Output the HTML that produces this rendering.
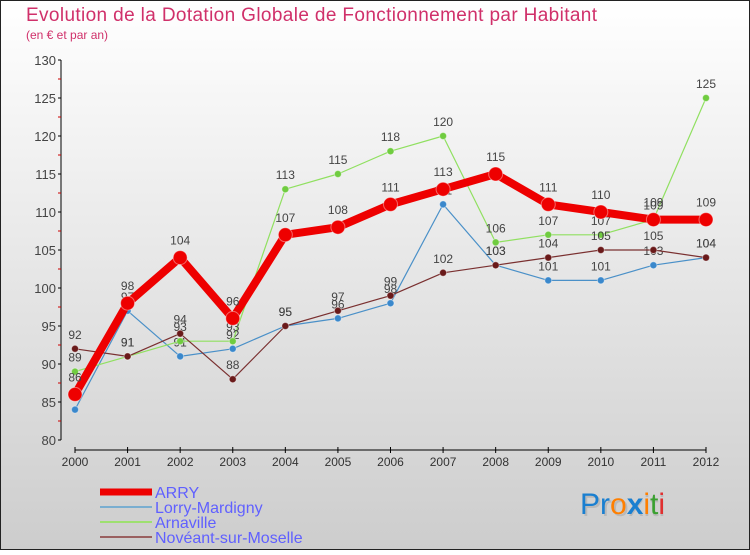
<!DOCTYPE html>
<html><head><meta charset="utf-8"><style>
body{margin:0;width:750px;height:550px;overflow:hidden;font-family:"Liberation Sans",sans-serif}
</style></head><body>
<svg id="c" width="750" height="550" xmlns="http://www.w3.org/2000/svg">
<defs><linearGradient id="bg" x1="0" y1="0" x2="0" y2="1"><stop offset="0" stop-color="#ffffff"/><stop offset="1" stop-color="#cdcdcd"/></linearGradient></defs>
<rect x="0.5" y="0.5" width="749" height="549" fill="url(#bg)" stroke="#222"/>
<text x="26" y="21" font-size="19" fill="#d0306a" textLength="571">Evolution de la Dotation Globale de Fonctionnement par Habitant</text>
<text x="26" y="39" font-size="12" fill="#d0306a">(en € et par an)</text>
<g id="axes"></g><g id="series"></g><g id="legend"></g>
<g font-size="30" font-family="Liberation Sans,sans-serif">
<text x="582" y="516" fill="#aaa" opacity="0.6">Proxiti</text>
<text x="580" y="514"><tspan fill="#1a7fd0">Pr</tspan><tspan fill="#ff7f00">o</tspan><tspan fill="#1a7fd0" font-weight="bold">x</tspan><tspan fill="#ff7f00">i</tspan><tspan fill="#3aa030">t</tspan><tspan fill="#e03030">i</tspan></text>
</g>
</svg>
<script>
const years=[2000,2001,2002,2003,2004,2005,2006,2007,2008,2009,2010,2011,2012];
const yTicks=[80,85,90,95,100,105,110,115,120,125,130];
const arry=[86,98,104,96,107,108,111,113,115,111,110,109,109];
const lorry=[84,97,91,92,95,96,98,111,103,101,101,103,104];
const arnaville=[89,91,93,93,113,115,118,120,106,107,107,109,125];
const noveant=[92,91,94,88,95,97,99,102,103,104,105,105,104];
const names=["ARRY","Lorry-Mardigny","Arnaville","Novéant-sur-Moselle"];
const NS="http://www.w3.org/2000/svg";
function X(i){return 75+i*(706-75)/(years.length-1);}
function Y(v){return 440-(v-80)*(380/50);}
function mk(t,a,p){const e=document.createElementNS(NS,t);for(const k in a)e.setAttribute(k,a[k]);p.appendChild(e);return e;}
const ax=document.getElementById('axes');
const ya=mk('line',{x1:61,y1:60,x2:61,y2:440,stroke:'#000'},ax);


yTicks.forEach(v=>{mk('line',{x1:58,x2:61,y1:Y(v),y2:Y(v),stroke:'#000'},ax);
 if(v<130)mk('line',{x1:58,x2:61,y1:Y(v+2.5),y2:Y(v+2.5),stroke:'#c00'},ax);
 const t=mk('text',{x:56,y:Y(v)+5,'text-anchor':'end','font-size':13,fill:'#444'},ax);t.textContent=v;
 
 });
const xa=mk('line',{x1:75,y1:450,x2:706,y2:450,stroke:'#000'},ax);


years.forEach((y,i)=>{mk('line',{x1:X(i),x2:X(i),y1:447,y2:453,stroke:'#000'},ax);
 const t=mk('text',{x:X(i),y:466,'text-anchor':'middle','font-size':12,fill:'#333'},ax);t.textContent=y;
 
 });
const sg=document.getElementById('series');
const defs=[[lorry,'#4a90c8',1.2,3.5,'#3a88cc','lorry-mardigny-series'],[arnaville,'#90e060',1.2,3.5,'#70cc40','arnaville-series'],[noveant,'#7a3030',1.2,3.5,'#6a1a1a','noveant-series'],[arry,'#ee0000',8,7,'#ee0000','arry-series']];
defs.forEach(([d,c,w,r,fc,nm])=>{
 const g=mk('g',{},sg);
 
 
 mk('polyline',{points:d.map((v,i)=>X(i)+','+Y(v)).join(' '),fill:'none',stroke:c,'stroke-width':w,'stroke-linejoin':'round'},g);
 d.forEach((v,i)=>{const p=mk('circle',{cx:X(i),cy:Y(v),r:r,fill:fc,stroke:'#fff','stroke-opacity':0.4},g);
  
  
  const t=mk('text',{x:X(i),y:Y(v)-(w>2?13:10),'text-anchor':'middle','font-size':12,fill:'#444'},g);t.textContent=v;});
});
const lg=document.getElementById('legend');
const lc=[['#ee0000',7],['#7aaed0',2],['#9ee070',2],['#9a6060',2]];
names.forEach((n,i)=>{const y=492+i*15;
 const g=mk('g',{},lg);
 
 
 mk('line',{x1:100,x2:152,y1:y,y2:y,stroke:lc[i][0],'stroke-width':lc[i][1]},g);
 const t=mk('text',{x:155,y:y+6,'font-size':16,fill:'#6060ff'},g);t.textContent=n;});
</script>
</body></html>
